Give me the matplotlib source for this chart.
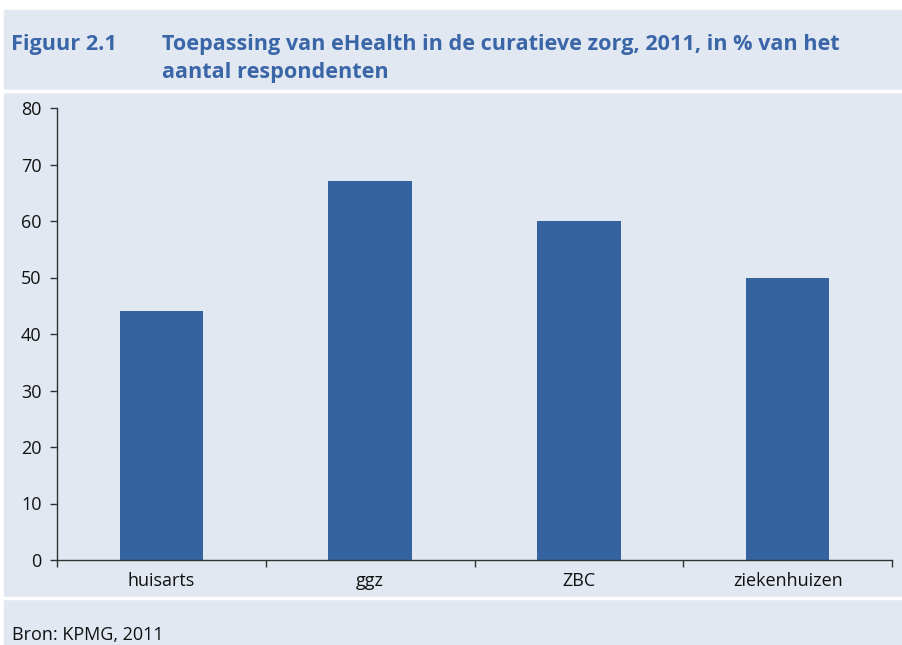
import matplotlib.pyplot as plt
from matplotlib.patches import Rectangle
from matplotlib.lines import Line2D

# eHealth use in curative care, 2011 (% of respondents)
categories = ['huisarts', 'ggz', 'ZBC', 'ziekenhuizen']
percentages = [44, 67, 60, 50]
y_ticks = [0, 10, 20, 30, 40, 50, 60, 70, 80]

panel_color = '#e1e8f2'
bar_color = '#3563a0'
title_color = '#3a66a8'

plt.rcParams['font.family'] = ['Open Sans', 'DejaVu Sans']

W, H = 902, 645
fig = plt.figure(figsize=(W / 100, H / 100), dpi=100)

# light panel behind everything, with white separator lines
fig.patches.append(Rectangle((4 / W, 0), 1 - 4 / W, 1 - 10 / H,
                             transform=fig.transFigure, color=panel_color, zorder=0))
for yy in (91, 598):
    fig.lines.append(Line2D([4 / W, 1], [1 - yy / H] * 2, transform=fig.transFigure,
                            color='white', lw=2.5, zorder=1))

title_kw = dict(color=title_color, fontsize=15.6, fontweight='bold', va='baseline')
fig.text(11 / W, 1 - 50 / H, 'Figuur 2.1', **title_kw)
fig.text(162 / W, 1 - 50 / H,
         'Toepassing van eHealth in de curatieve zorg, 2011, in % van het', **title_kw)
fig.text(162 / W, 1 - 78 / H, 'aantal respondenten', **title_kw)
fig.text(12 / W, 1 - 640 / H, 'Bron: KPMG, 2011', color='#111111', fontsize=13,
         va='baseline')

ax = fig.add_axes([57 / W, (H - 560) / H, (892 - 57) / W, (560 - 108) / H])
ax.set_zorder(3)
ax.set_facecolor('none')
x = range(len(categories))
ax.bar(x, percentages, width=0.4, color=bar_color, zorder=2)

ax.set_xlim(-0.5, len(categories) - 0.5)
ax.set_ylim(0, 80)
ax.set_yticks(y_ticks)
ax.set_xticks(list(x))
ax.set_xticklabels(categories)
ax.set_xticks([i - 0.5 for i in range(len(categories) + 1)], minor=True)
ax.tick_params(axis='x', which='major', length=0, pad=9, labelsize=13, colors='#111111')
ax.tick_params(axis='x', which='minor', length=5, width=1, color='#333333', direction='out')
ax.tick_params(axis='y', length=5, width=1, color='#333333', labelsize=13,
               labelcolor='#111111', pad=6)
for side in ('top', 'right'):
    ax.spines[side].set_visible(False)
for side in ('left', 'bottom'):
    ax.spines[side].set_color('#333333')
    ax.spines[side].set_linewidth(1)

fig.savefig('out.png', dpi=100)
